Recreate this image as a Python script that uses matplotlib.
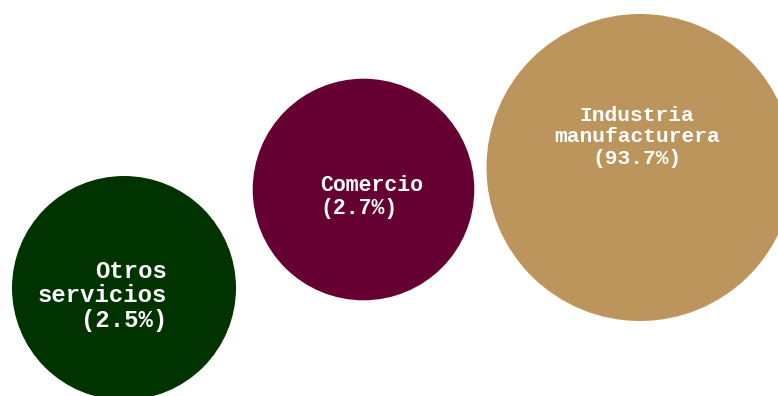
import matplotlib.pyplot as plt
from matplotlib.patches import Circle

# Datos
sectores = ["Otros\nservicios", "Comercio", "Industria\nmanufacturera"]
porcentajes = [2.5, 2.7, 93.7]
colores = ["#003300", "#660033", "#BC955C"]

# Disposición de las burbujas (en píxeles de la imagen)
centros = [(124, 288), (363.5, 189.5), (640, 167.5)]
radios = [112, 110.8, 153.5]
pos_texto = [(167, 296), (320, 197), (637, 137)]
alineacion = ["right", "left", "center"]
tam_fuente = [17.2, 15.5, 15.3]
interlineado = [1.09, 1.1, 1.18]

fig = plt.figure(figsize=(7.78, 3.96), dpi=100)
ax = fig.add_axes([0, 0, 1, 1])
ax.set_xlim(0, 778)
ax.set_ylim(396, 0)
ax.set_aspect("equal")
ax.axis("off")

for i in range(len(sectores)):
    ax.add_patch(Circle(centros[i], radios[i], color=colores[i], lw=0))
    etiqueta = f"{sectores[i]}\n({porcentajes[i]}%)"
    ax.text(pos_texto[i][0], pos_texto[i][1], etiqueta,
            ha=alineacion[i], va="center", multialignment=alineacion[i],
            color="white", fontsize=tam_fuente[i], fontweight="bold",
            family="Liberation Mono", linespacing=interlineado[i])

fig.savefig("out.png", dpi=100, facecolor="white")
